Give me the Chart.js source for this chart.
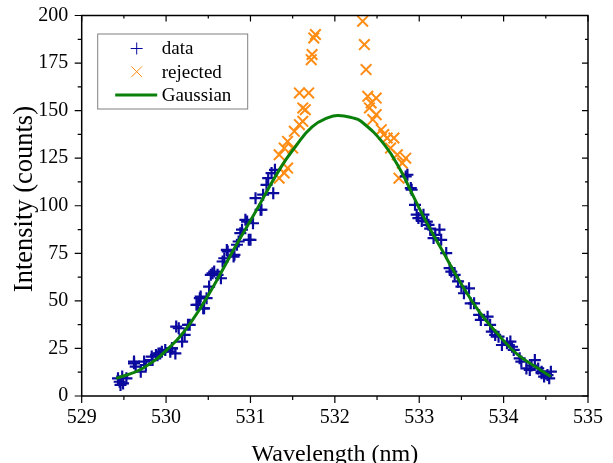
<!DOCTYPE html>
<html>
<head>
<meta charset="utf-8">
<script src="https://cdn.jsdelivr.net/npm/chart.js@4.4.1/dist/chart.umd.min.js"></script>
<style>
  html, body { margin: 0; padding: 0; background: #fff; }
  #wrap { width: 613px; height: 463px; }
</style>
</head>
<body>
<div id="wrap"><canvas id="spectrum"></canvas></div>
<script>
// kept points (blue +)
const dataWl = [
    529.43, 529.45, 529.46, 529.48, 529.49, 529.53, 529.62, 529.62, 529.64, 529.70,
    529.74, 529.76, 529.83, 529.84, 529.88, 529.91, 529.93, 529.95, 529.99, 530.05,
    530.07, 530.07, 530.11, 530.12, 530.15, 530.19, 530.22, 530.26, 530.28, 530.36,
    530.38, 530.40, 530.41, 530.44, 530.45, 530.48, 530.51, 530.53, 530.55, 530.57,
    530.61, 530.65, 530.67, 530.69, 530.72, 530.73, 530.80, 530.81, 530.84, 530.86,
    530.88, 530.90, 530.94, 530.96, 530.98, 531.00, 531.03, 531.06, 531.12, 531.13,
    531.15, 531.19, 531.21, 531.25, 531.27, 531.29,
    532.84, 532.86, 532.90, 532.91, 532.95, 532.97, 532.99, 533.03, 533.05, 533.09,
    533.11, 533.13, 533.17, 533.19, 533.24, 533.26, 533.32, 533.36, 533.38, 533.42,
    533.46, 533.50, 533.53, 533.59, 533.61, 533.65, 533.71, 533.73, 533.81, 533.84,
    533.86, 533.90, 533.94, 533.98, 534.04, 534.08, 534.10, 534.12, 534.19, 534.21,
    534.27, 534.31, 534.33, 534.37, 534.41, 534.45, 534.45, 534.48, 534.52, 534.54,
    534.56,
];
const dataCounts = [
    9.3, 7.5, 5.8, 10.2, 6.6, 9.3, 18.1, 17.2, 15.4, 12.8,
    18.1, 16.3, 20.7, 18.9, 21.6, 22.4, 22.4, 23.3, 24.2, 23.3,
    25.1, 25.0, 22.4, 36.5, 35.6, 28.6, 32.1, 37.4, 37.4, 47.9,
    47.9, 51.4, 52.3, 46.1, 46.1, 51.4, 57.5, 63.7, 64.5, 65.4,
    63.7, 61.9, 70.7, 72.4, 76.8, 76.0, 73.3, 74.2, 79.5, 81.2,
    85.6, 87.4, 92.6, 91.7, 82.1, 82.1, 90.8, 104.0, 97.9, 97.9,
    105.8, 111.0, 114.5, 117.2, 106.6, 118.9,
    115.4, 116.3, 109.3, 108.4, 100.5, 95.3, 93.5, 92.0, 95.3, 91.7,
    90.0, 88.0, 83.0, 84.7, 87.4, 82.1, 75.1, 67.2, 65.4, 63.7,
    60.2, 57.5, 54.0, 56.6, 48.7, 48.7, 42.6, 40.0, 41.7, 37.4,
    33.8, 32.1, 31.2, 26.8, 27.7, 28.6, 25.9, 24.2, 19.8, 18.1,
    14.5, 13.7, 16.0, 18.9, 14.5, 12.0, 12.8, 10.2, 11.0, 9.3,
    12.8,
];

// rejected points (orange x)
const rejWl = [
    531.34, 531.34, 531.40, 531.40, 531.44, 531.44, 531.50, 531.52, 531.58, 531.58,
    531.62, 531.62, 531.65, 531.69, 531.72, 531.73, 531.75, 531.77,
    532.33, 532.35, 532.37, 532.39, 532.41, 532.43, 532.45, 532.49, 532.49, 532.55,
    532.58, 532.62, 532.66, 532.70, 532.74, 532.76, 532.80, 532.84,
];
const rejCounts = [
    114.5, 126.8, 117.2, 130.3, 119.8, 133.8, 130.3, 139.1, 142.6, 159.3,
    144.4, 151.4, 150.5, 159.3, 176.8, 179.5, 188.2, 190.0,
    197.0, 184.7, 171.6, 157.5, 151.4, 154.0, 145.3, 156.6, 147.9, 140.0,
    137.4, 135.6, 130.3, 135.6, 126.8, 114.5, 122.4, 125.0,
];

// fitted curve
const fitWl = [
    529.41, 529.72, 530.07, 530.30, 530.57, 530.81, 531.04, 531.35, 531.54, 531.73,
    531.93, 532.04, 532.20, 532.31, 532.58, 532.78, 532.95, 533.09, 533.28, 533.48,
    533.71, 533.94, 534.17, 534.41, 534.56,
];
const fitCounts = [
    9.3, 14.5, 26.8, 39.1, 58.4, 77.7, 95.3, 119.5, 131.5, 141.5,
    146.5, 147.4, 146.3, 144.4, 132.5, 118.5, 103.2, 91.0, 75.9, 60.2,
    44.4, 32.1, 21.6, 14.5, 10.2,
];

const xMin = 529, xMax = 535, xStep = 1;
const yMin = 0, yMax = 200, yStep = 25;
const yTitle = 'Intensity (counts)';

const BLUE = '#0a0a9e';
const ORANGE = '#ff8c14';
const GREEN = '#0a800a';
const SERIF = "'Liberation Serif', 'Times New Roman', serif";

const zip = (xs, ys) => xs.map((x, i) => ({x, y: ys[i]}));

// legend entries in the order shown in the box
const legendItems = [
    {label: 'data', kind: 'point', style: 'cross', radius: 6, width: 2.2, color: BLUE},
    {label: 'rejected', kind: 'point', style: 'crossRot', radius: 7.5, width: 2, color: ORANGE},
    {label: 'Gaussian', kind: 'line', width: 3, color: GREEN},
];

// box frame with major/minor ticks on all four sides, plus the y title
const frame = {
    id: 'frame',
    afterDraw(chart) {
        const {ctx, chartArea: a, scales: {x, y}} = chart;
        ctx.save();
        ctx.strokeStyle = '#000';
        ctx.lineWidth = 1.5;
        ctx.strokeRect(a.left, a.top, a.right - a.left, a.bottom - a.top);
        ctx.lineWidth = 1.2;
        ctx.beginPath();
        for (let v = xMin; v <= xMax + 1e-9; v += xStep / 2) {
            const px = x.getPixelForValue(v);
            const major = Math.abs(v - Math.round(v)) < 1e-9;
            ctx.moveTo(px, a.bottom); ctx.lineTo(px, a.bottom + (major ? 7 : 4));
            ctx.moveTo(px, a.top); ctx.lineTo(px, a.top + (major ? 6 : 3));
        }
        for (let v = yMin; v <= yMax + 1e-9; v += yStep / 2) {
            const py = y.getPixelForValue(v);
            const major = Math.abs(v / yStep - Math.round(v / yStep)) < 1e-9;
            ctx.moveTo(a.left, py); ctx.lineTo(a.left - (major ? 7 : 4), py);
            ctx.moveTo(a.right, py); ctx.lineTo(a.right - (major ? 6 : 3), py);
        }
        ctx.stroke();

        // y title sits a little above the axis middle in the original
        ctx.translate(32, y.getPixelForValue(103.5));
        ctx.rotate(-Math.PI / 2);
        ctx.fillStyle = '#000';
        ctx.font = `26.5px ${SERIF}`;
        ctx.textAlign = 'center';
        ctx.textBaseline = 'alphabetic';
        ctx.fillText(yTitle, 0, 0);
        ctx.restore();
    },
};

const legendBox = {
    id: 'legendBox',
    afterDraw(chart) {
        const {ctx, chartArea: a} = chart;
        const x0 = a.left + 15.5, y0 = a.top + 18;
        ctx.save();
        ctx.fillStyle = '#fff';
        ctx.fillRect(x0, y0, 150, 75);
        ctx.strokeStyle = '#808080';
        ctx.lineWidth = 1;
        ctx.strokeRect(x0 + 0.5, y0 + 0.5, 150, 75);
        legendItems.forEach((item, i) => {
            const cy = y0 + 15 + i * 23.2;
            if (item.kind === 'line') {
                ctx.strokeStyle = item.color;
                ctx.lineWidth = item.width;
                ctx.beginPath();
                ctx.moveTo(x0 + 18, cy);
                ctx.lineTo(x0 + 60, cy);
                ctx.stroke();
            } else {
                ctx.strokeStyle = item.color;
                Chart.helpers.drawPoint(ctx, {pointStyle: item.style, radius: item.radius, borderWidth: item.width, rotation: 0}, x0 + 39.5, cy);
            }
            ctx.fillStyle = '#000';
            ctx.font = `19px ${SERIF}`;
            ctx.textBaseline = 'middle';
            ctx.fillText(item.label, x0 + 64.5, cy + 1);
        });
        ctx.restore();
    },
};

new Chart(document.getElementById('spectrum'), {
    type: 'scatter',
    data: {
        datasets: [
            {
                label: 'Gaussian',
                data: zip(fitWl, fitCounts),
                showLine: true,
                borderColor: GREEN,
                borderWidth: 3,
                pointRadius: 0,
                tension: 0.45,
                order: 0,
            },
            {
                label: 'data',
                data: zip(dataWl, dataCounts),
                pointStyle: 'cross',
                pointRadius: 6,
                pointBorderWidth: 2.2,
                borderColor: BLUE,
                backgroundColor: BLUE,
                order: 1,
            },
            {
                label: 'rejected',
                data: zip(rejWl, rejCounts),
                pointStyle: 'crossRot',
                pointRadius: 7.5,
                pointBorderWidth: 2,
                borderColor: ORANGE,
                backgroundColor: ORANGE,
                order: 2,
            },
        ],
    },
    options: {
        responsive: true,
        maintainAspectRatio: false,
        animation: false,
        devicePixelRatio: 1,
        layout: { autoPadding: false, padding: { top: 14, right: 15.3, left: 0, bottom: 0 } },
        scales: {
            x: {
                type: 'linear',
                min: xMin,
                max: xMax,
                ticks: { stepSize: xStep, color: '#000', padding: 10, font: { family: SERIF, size: 20 } },
                grid: { display: false, drawTicks: false },
                border: { display: false },
                title: { display: true, text: 'Wavelength (nm)', color: '#000', padding: { top: 0, bottom: -6 }, font: { family: SERIF, size: 24 } },
                afterFit: (s) => { s.height = 67; },
            },
            y: {
                min: yMin,
                max: yMax,
                ticks: { stepSize: yStep, color: '#000', padding: 13.5, font: { family: SERIF, size: 20, lineHeight: 0.2 } },
                grid: { display: false, drawTicks: false },
                border: { display: false },
                title: { display: false },
                afterFit: (s) => { s.width = 81.7; },
            },
        },
        plugins: { legend: { display: false }, tooltip: { enabled: false } },
    },
    plugins: [frame, legendBox],
});
</script>
</body>
</html>
